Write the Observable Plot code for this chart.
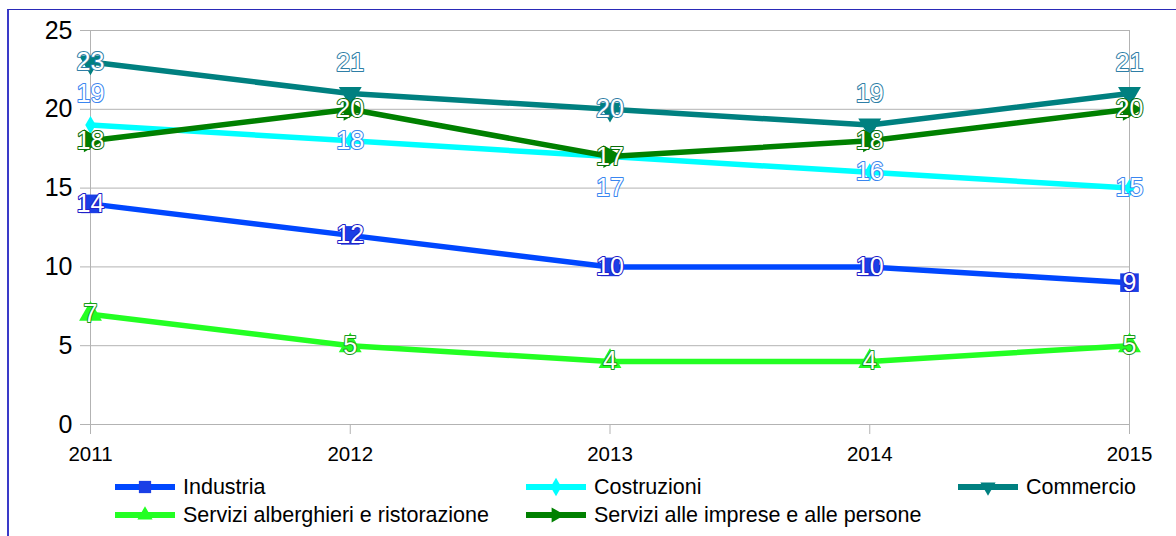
<!DOCTYPE html>
<html><head><meta charset="utf-8">
<script src="https://cdn.jsdelivr.net/npm/d3@7"></script>
<script src="https://cdn.jsdelivr.net/npm/@observablehq/plot@0.6"></script>
<style>
body{margin:0;background:#fff;font-family:"Liberation Sans",Arial,sans-serif;}
#wrap{position:relative;width:1176px;height:536px;overflow:hidden;background:#fff;}
#frame{position:absolute;left:7px;top:9px;width:1300px;height:700px;border-left:2px solid #3a3ac8;border-top:1.5px solid #2a2ab8;}
#chart{position:absolute;left:0;top:0;}
.leg{position:absolute;display:flex;align-items:center;font-size:21.5px;color:#000;white-space:nowrap;height:26px;}
.leg svg{margin-right:8px;}
</style></head>
<body><div id="wrap"><div id="frame"></div><div id="chart"></div></div>
<script>
// ---- data ----
const years = [2011, 2012, 2013, 2014, 2015];
const seriesNames = ["Industria", "Costruzioni", "Commercio", "Servizi alberghieri e ristorazione", "Servizi alle imprese e alle persone"];
const industria = [14, 12, 10, 10, 9];
const costruzioni = [19, 18, 17, 16, 15];
const commercio = [23, 21, 20, 19, 21];
const alberghieri = [7, 5, 4, 4, 5];
const imprese = [18, 20, 17, 18, 20];
const yTicks = [0, 5, 10, 15, 20, 25];
const labelsAbove = [["Commercio", 2012], ["Commercio", 2014], ["Commercio", 2015], ["Costruzioni", 2011]];
const labelsBelow = [["Costruzioni", 2013]];

// ---- styles ----
const S3 = Math.sqrt(3);
const triDown = {draw(ctx, size){ const y = -Math.sqrt(size/(S3*3)); ctx.moveTo(0, -y*2); ctx.lineTo(-S3*y, y); ctx.lineTo(S3*y, y); ctx.closePath(); }};
const triRight = {draw(ctx, size){ const y = -Math.sqrt(size/(S3*3)); ctx.moveTo(-y*2, 0); ctx.lineTo(y, S3*y); ctx.lineTo(y, -S3*y); ctx.closePath(); }};
const style = {
  "Industria": {color:"#0047ff", mark:"#1a3fe6", label:"#2020c8", symbol:"square", r:10.5},
  "Costruzioni": {color:"#00ffff", mark:"#00ffff", label:"#3a86f0", symbol:"diamond", r:5.5},
  "Commercio": {color:"#008080", mark:"#008080", label:"#2e7ea6", symbol:triDown, r:8.5},
  "Servizi alberghieri e ristorazione": {color:"#23ff23", mark:"#23ff23", label:"#1a9a1a", symbol:"triangle", r:8.5},
  "Servizi alle imprese e alle persone": {color:"#008000", mark:"#008000", label:"#0a6e0a", symbol:triRight, r:8.5}
};
const valuesBySeries = [industria, costruzioni, commercio, alberghieri, imprese];
const rows = [];
seriesNames.forEach((s, i) => years.forEach((yr, j) => rows.push({series: s, year: yr, value: valuesBySeries[i][j]})));
const isIn = (list, d) => list.some(([s, y]) => s === d.series && y === d.year);

const marks = [
  Plot.gridY(yTicks, {stroke:"#b3b3b3", strokeOpacity:1}),
  Plot.ruleX([years[0], years[years.length-1]], {stroke:"#b3b3b3"}),
  Plot.axisY(yTicks, {tickSize:10, tickPadding:8, stroke:"#b3b3b3", fill:"#000", fontSize:25, label:null}),
  Plot.axisX(years, {tickSize:10, tickPadding:12, stroke:"#b3b3b3", fill:"#000", fontSize:20.5, label:null, tickFormat:d3.format("d")})
];
seriesNames.forEach(s => {
  const d = rows.filter(r => r.series === s);
  marks.push(Plot.line(d, {x:"year", y:"value", stroke:style[s].color, strokeWidth:5.5}));
});
seriesNames.forEach(s => {
  const d = rows.filter(r => r.series === s);
  marks.push(Plot.dot(d, {x:"year", y:"value", symbol:style[s].symbol, r:style[s].r, fill:style[s].mark, stroke:"none"}));
});
seriesNames.forEach(s => {
  const d = rows.filter(r => r.series === s);
  const common = {x:"year", y:"value", text:r => String(r.value), fill:"white", stroke:style[s].label, strokeWidth:2, paintOrder:"stroke", fontSize:25};
  marks.push(Plot.text(d.filter(r => !isIn(labelsAbove, r) && !isIn(labelsBelow, r)), {...common}));
  marks.push(Plot.text(d.filter(r => isIn(labelsAbove, r)), {...common, dy:-31}));
  marks.push(Plot.text(d.filter(r => isIn(labelsBelow, r)), {...common, dy:31}));
});

const chart = Plot.plot({
  width: 1176, height: 470,
  marginLeft: 90, marginRight: 47, marginTop: 30, marginBottom: 46,
  style: {fontFamily: '"Liberation Sans", Arial, sans-serif', fontSize: "22px", background: "transparent", color:"#000"},
  x: {type:"linear", domain:[years[0], years[years.length-1]], axis:null},
  y: {domain:[0, 25], axis:null},
  marks
});
document.getElementById("chart").appendChild(chart);

// ---- legend ----
const legPos = [[115, 487], [526, 487], [958, 487], [115, 515], [526, 515]];
const lw = 60;
const wrap = d3.select("#wrap");
seriesNames.forEach((s, i) => {
  const [lx, ly] = legPos[i];
  const item = wrap.append("div").attr("class", "leg").style("left", lx + "px").style("top", (ly - 13) + "px");
  const svg = item.append("svg").attr("width", lw).attr("height", 20);
  svg.append("line").attr("x1", 0).attr("x2", lw).attr("y1", 10).attr("y2", 10).attr("stroke", style[s].color).attr("stroke-width", 6);
  svg.append("path").attr("transform", `translate(${lw/2},10)`)
    .attr("d", d3.symbol().type(typeof style[s].symbol === "string" ? {square:d3.symbolSquare, diamond:d3.symbolDiamond, triangle:d3.symbolTriangle}[style[s].symbol] : style[s].symbol).size(s === "Industria" ? 150 : 100)())
    .attr("fill", style[s].mark);
  item.append("span").text(s);
});
</script>
</body></html>
